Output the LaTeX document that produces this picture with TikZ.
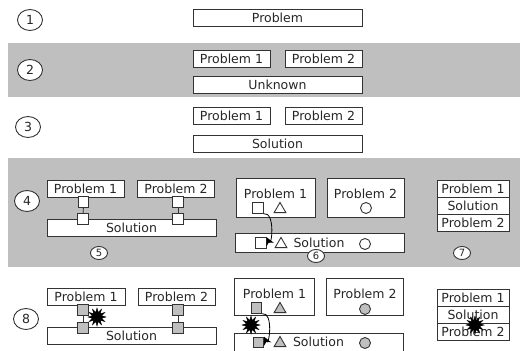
\documentclass[tikz,border=0pt]{standalone}
\usepackage{fontspec}
\setmainfont{DejaVu Sans}
\usetikzlibrary{positioning, arrows.meta, shapes.geometric}

\begin{document}
\begin{tikzpicture}[x=1pt, y=-1pt, line width=0.9pt, draw=black!80, text=black!85,
    box/.style={draw, fill=white, inner sep=0pt, minimum height=17pt, font=\fontsize{12.5}{12.5}\selectfont},
    bigbox/.style={draw, fill=white, inner sep=0pt},
    txt/.style={inner sep=0pt, font=\fontsize{12.5}{12.5}\selectfont},
    num/.style={ellipse, draw, fill=white, minimum width=25pt, minimum height=21pt, inner sep=0pt, font=\fontsize{12.5}{12.5}\selectfont},
    numsm/.style={ellipse, draw, fill=white, minimum width=17pt, minimum height=13pt, inner sep=0pt, font=\fontsize{10}{10}\selectfont},
    sq/.style={draw, fill=white, minimum size=10.5pt, inner sep=0pt},
    tri/.style={regular polygon, regular polygon sides=3, draw, minimum size=13.5pt, inner sep=0pt, anchor=south},
    dot/.style={circle, draw, minimum size=11pt, inner sep=0pt},
    burst/.style={star, star points=12, star point ratio=1.9, fill=black, draw=black, line width=0.4pt, minimum size=18pt, inner sep=0pt},
    arrow/.style={-{Stealth[length=8pt, width=8pt]}, line width=0.8pt, draw=black}
]
    \useasboundingbox (0,0) rectangle (520,351);

    % Bands
    \fill[gray!50] (8,43) rectangle (520,97);
    \fill[gray!50] (8,158) rectangle (520,267);

    % 1
    \node[num] (n1) at (30,20) {1};
    \node[box, minimum width=169pt] (prob) at (277.5,18) {Problem};

    % 2
    \node[num] (n2) at (30,70) {2};
    \node[box, minimum width=77pt] (p1b) at (231.5,58.5) {Problem 1};
    \node[box, minimum width=77pt] (p2b) at (323.5,58.5) {Problem 2};
    \node[box, minimum width=169pt] (unk) at (277.5,85) {Unknown};

    % 3
    \node[num] (n3) at (28,127) {3};
    \node[box, minimum width=77pt] (p1c) at (231.5,116) {Problem 1};
    \node[box, minimum width=77pt] (p2c) at (323.5,116) {Problem 2};
    \node[box, minimum width=169pt] (solc) at (277.5,144) {Solution};

    % 4 -- ports
    \node[num] (n4) at (27,201) {4};
    \node[box, minimum width=77pt] (p1d) at (85.5,189) {Problem 1};
    \node[box, minimum width=77pt] (p2d) at (176,189) {Problem 2};
    \node[box, minimum width=169pt] (sold) at (131.5,227.5) {Solution};
    \node[sq] (d1a) at (83.5,202) {};
    \node[sq] (d1b) at (83,219) {};
    \node[sq] (d2a) at (178,202) {};
    \node[sq] (d2b) at (178,219) {};
    \draw (d1a) -- (d1b);
    \draw (d2a) -- (d2b);
    \node[numsm] (n5) at (99,253) {5};

    % 4 -- shapes
    \node[bigbox, minimum width=79pt, minimum height=39pt] (p1e) at (275.5,197.5) {};
    \node[bigbox, minimum width=77pt, minimum height=39pt] (p2e) at (365.5,197.5) {};
    \node[bigbox, minimum width=169pt, minimum height=19pt] (sole) at (319.5,242.5) {};
    \node[txt] (p1et) at (275.5,194) {Problem 1};
    \node[txt] (p2et) at (365.5,194) {Problem 2};
    \node[txt] (solet) at (319,242.5) {Solution};
    \node[sq] (e1s) at (258,208) {};
    \node[tri] (e1t) at (280,213) {};
    \node[dot] (e2c) at (366,208) {};
    \node[sq] (es) at (261,243) {};
    \node[tri] (et) at (281,248) {};
    \node[dot] (ec) at (365,244) {};
    \draw[arrow] (e1s.south east) to[out=10, in=-65, looseness=1.3] (es.north east);
    \node[numsm] (n6) at (316,256) {6};

    % 4 -- stack
    \node[box, minimum width=72pt] (f1) at (473,189) {Problem 1};
    \node[box, minimum width=72pt] (fs) at (473,206) {Solution};
    \node[box, minimum width=72pt] (f2) at (473,223) {Problem 2};
    \node[numsm] (n7) at (462,253) {7};

    % 8 -- ports
    \node[num] (n8) at (26,319) {8};
    \node[box, minimum width=78pt] (p1g) at (86,296.5) {Problem 1};
    \node[box, minimum width=77pt] (p2g) at (176.5,296.5) {Problem 2};
    \node[box, minimum width=169pt] (solg) at (131.5,336) {Solution};
    \node[sq, fill=gray!50] (g1a) at (83,310) {};
    \node[sq, fill=gray!50] (g1b) at (83,328) {};
    \node[sq, fill=gray!50] (g2a) at (178,310) {};
    \node[sq, fill=gray!50] (g2b) at (178,328) {};
    \draw (g1a) -- (g1b);
    \draw (g2a) -- (g2b);
    \node[burst] (g1x) at (97,317) {};

    % 8 -- shapes
    \node[bigbox, minimum width=80pt, minimum height=37pt] (p1h) at (274,297) {};
    \node[bigbox, minimum width=77pt, minimum height=37pt] (p2h) at (364.5,297) {};
    \node[bigbox, minimum width=169pt, minimum height=20pt] (solh) at (318.5,343) {};
    \node[txt] (p1ht) at (274.5,294) {Problem 1};
    \node[txt] (p2ht) at (365,294) {Problem 2};
    \node[txt] (solht) at (318.5,342) {Solution};
    \node[sq, fill=gray!50] (h1s) at (256.5,308) {};
    \node[tri, fill=gray!50] (h1t) at (280,313) {};
    \node[dot, fill=gray!50] (h2c) at (365,309) {};
    \node[sq, fill=gray!50] (hs) at (258.5,342.5) {};
    \node[tri, fill=gray!50] (ht) at (280,347) {};
    \node[dot, fill=gray!50] (hc) at (365,343) {};
    \draw[arrow] (h1s.south east) to[out=10, in=-65, looseness=1.3] (hs.north east);
    \node[burst] (hx) at (251,325) {};

    % 8 -- stack
    \node[box, minimum width=72pt] (k1) at (473,297.5) {Problem 1};
    \node[box, minimum width=72pt] (ks) at (473,314.5) {Solution};
    \node[box, minimum width=72pt] (k2) at (473,331.5) {Problem 2};
    \node[burst] (kx) at (475,325) {};

\end{tikzpicture}
\end{document}
